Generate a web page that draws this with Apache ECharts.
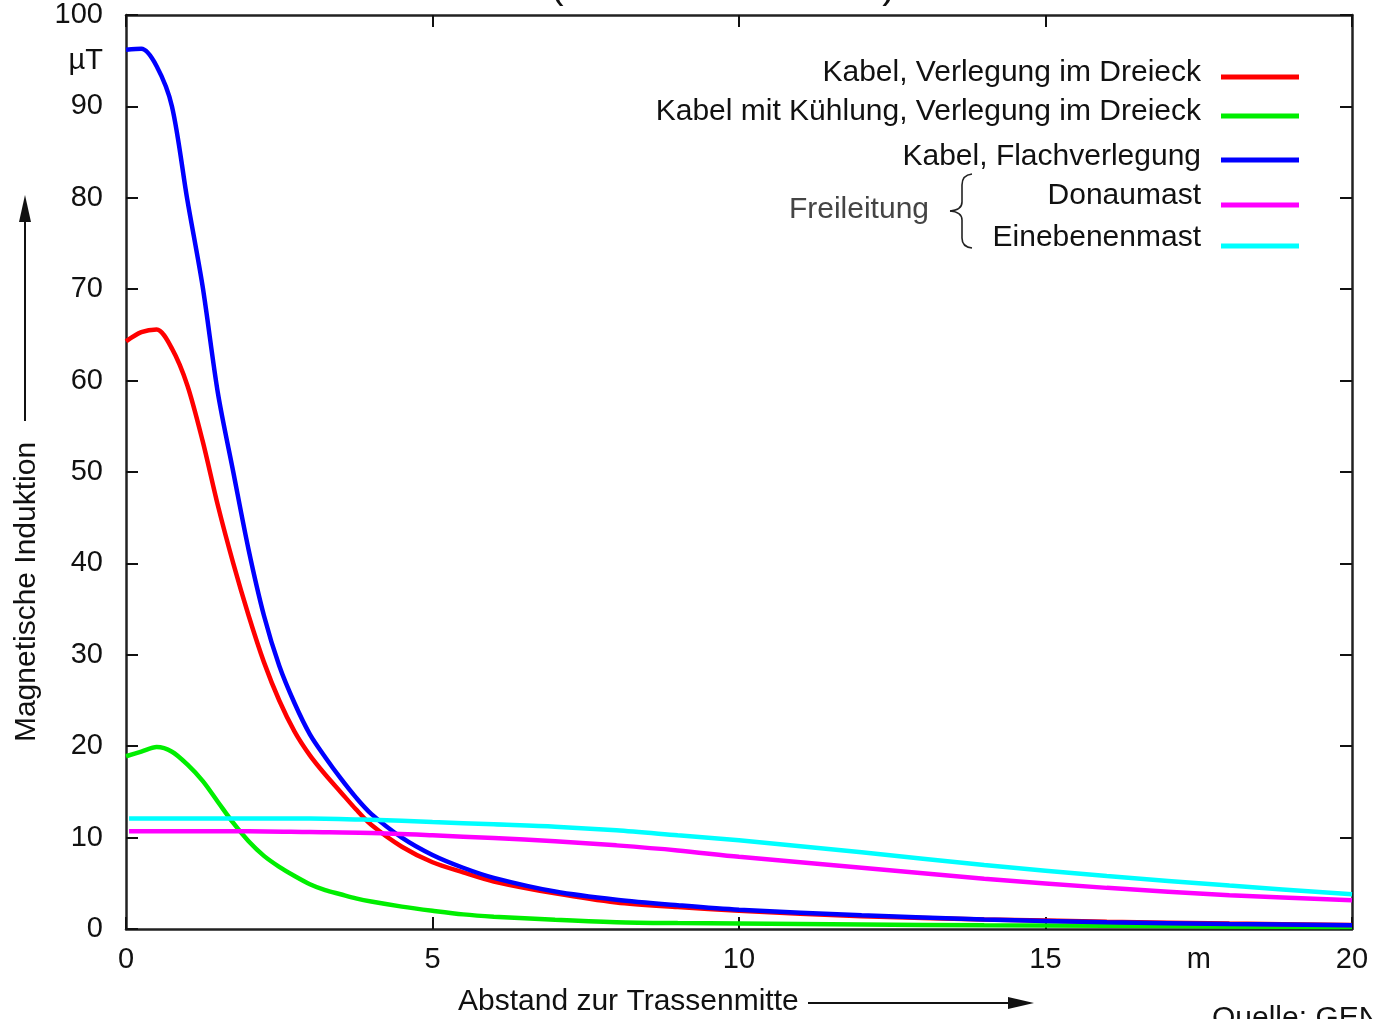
<!DOCTYPE html>
<html><head><meta charset="utf-8">
<script src="https://cdn.jsdelivr.net/npm/echarts@6/dist/echarts.min.js"></script>
<style>html,body{margin:0;padding:0;background:#fff}#c{width:1375px;height:1019px}</style>
</head><body><div id="c"></div>
<script>
// Distance from route centre (m)
const xCable = [0, 0.25, 0.5, 0.75, 1, 1.25, 1.5, 1.75, 2, 2.25, 2.5, 2.75, 3, 3.25, 3.5, 3.75, 4, 4.5, 5, 5.5, 6, 7, 8, 9, 10, 12, 14, 16, 18, 20];
// Kabel, Verlegung im Dreieck
const redVals   = [64.3, 65.3, 65.6, 63.5, 59.5, 53.4, 46.3, 40.0, 34.3, 29.2, 25.0, 21.6, 19.0, 16.9, 15.0, 13.1, 11.4, 9.0, 7.3, 6.2, 5.2, 3.9, 2.9, 2.4, 2.0, 1.4, 1.05, 0.8, 0.6, 0.45];
// Kabel mit Kühlung, Verlegung im Dreieck
const greenVals = [18.9, 19.4, 19.9, 19.4, 18.0, 16.2, 13.9, 11.6, 9.6, 8.0, 6.8, 5.8, 4.9, 4.25, 3.8, 3.35, 3.0, 2.45, 2.0, 1.6, 1.35, 1.0, 0.75, 0.65, 0.6, 0.5, 0.4, 0.35, 0.28, 0.22];
// Kabel, Flachverlegung
const blueVals  = [96.2, 96.3, 94.4, 90.0, 79.8, 70.3, 58.6, 50.0, 41.5, 34.3, 28.8, 24.7, 21.3, 18.8, 16.5, 14.4, 12.6, 10.0, 8.1, 6.7, 5.6, 4.1, 3.2, 2.6, 2.1, 1.5, 1.05, 0.75, 0.55, 0.4];
// Freileitung
const xLine = [0.05, 1, 2, 3, 4, 5, 6, 7, 8, 9, 10, 12, 14, 16, 18, 20];
const magentaVals = [10.7, 10.7, 10.7, 10.6, 10.5, 10.25, 9.95, 9.6, 9.15, 8.6, 7.9, 6.7, 5.5, 4.5, 3.7, 3.15];
const cyanVals    = [12.1, 12.1, 12.1, 12.1, 11.95, 11.7, 11.45, 11.2, 10.8, 10.25, 9.7, 8.4, 7.0, 5.8, 4.75, 3.8];

const seriesNames = ['Kabel, Verlegung im Dreieck', 'Kabel mit Kühlung, Verlegung im Dreieck', 'Kabel, Flachverlegung', 'Donaumast', 'Einebenenmast'];
const seriesColors = ['#ff0000', '#00ee00', '#0000ff', '#ff00ff', '#00ffff'];
const xTickValues = [0, 5, 10, 15, 20];
const xLabelValues = [0, 5, 10, 15, 17.5, 20];
const yTickValues = [0, 10, 20, 30, 40, 50, 60, 70, 80, 90, 100];
const yLabelValues = [0, 10, 20, 30, 40, 50, 60, 70, 80, 90, 95, 100];

const pairs = (xs, ys) => xs.map((x, i) => [x, ys[i]]);
const seriesData = [pairs(xCable, redVals), pairs(xCable, greenVals), pairs(xCable, blueVals), pairs(xLine, magentaVals), pairs(xLine, cyanVals)];

const FONT = 'Liberation Sans, Arial, sans-serif';
const axisLine = {show: true, onZero: false, lineStyle: {color: '#222', width: 2.5}};
const tick = (vals) => ({show: true, inside: true, length: 12, customValues: vals, lineStyle: {color: '#111', width: 2}});

const chart = echarts.init(document.getElementById('c'), null, {renderer: 'canvas'});

// Legend (right aligned text, line sample to the right)
const legendY = [73, 112, 157, 196, 238];
const sampleY = [77, 116, 160, 205, 246];
const graphics = [];
seriesNames.forEach((n, i) => {
  graphics.push({type: 'text', x: 1201, y: legendY[i], style: {text: n, font: '30px ' + FONT, fill: '#111', textAlign: 'right', textVerticalAlign: 'middle'}});
  graphics.push({type: 'line', shape: {x1: 1221, y1: sampleY[i], x2: 1299, y2: sampleY[i]}, style: {stroke: seriesColors[i], lineWidth: 5}});
});
graphics.push({type: 'text', x: 929, y: 210, style: {text: 'Freileitung', font: '30px ' + FONT, fill: '#444', textAlign: 'right', textVerticalAlign: 'middle'}});
// curly brace
const braceStyle = {stroke: '#222', lineWidth: 1.6, fill: null};
graphics.push({type: 'bezierCurve', shape: {x1: 972, y1: 174, x2: 962, y2: 185, cpx1: 962, cpy1: 175}, style: braceStyle});
graphics.push({type: 'line', shape: {x1: 962, y1: 185, x2: 962, y2: 202}, style: braceStyle});
graphics.push({type: 'bezierCurve', shape: {x1: 962, y1: 202, x2: 950, y2: 211, cpx1: 962, cpy1: 210}, style: braceStyle});
graphics.push({type: 'bezierCurve', shape: {x1: 950, y1: 211, x2: 962, y2: 220, cpx1: 962, cpy1: 212}, style: braceStyle});
graphics.push({type: 'line', shape: {x1: 962, y1: 220, x2: 962, y2: 238}, style: braceStyle});
graphics.push({type: 'bezierCurve', shape: {x1: 962, y1: 238, x2: 972, y2: 248, cpx1: 962, cpy1: 247}, style: braceStyle});
// Y axis title with arrow
graphics.push({type: 'text', x: 27, y: 592, rotation: Math.PI / 2, style: {text: 'Magnetische Induktion', font: '30px ' + FONT, fill: '#111', textAlign: 'center', textVerticalAlign: 'middle'}});
graphics.push({type: 'line', shape: {x1: 25, y1: 421, x2: 25, y2: 215}, style: {stroke: '#111', lineWidth: 2}});
graphics.push({type: 'polygon', shape: {points: [[25, 195], [19, 222], [31, 222]]}, style: {fill: '#111'}});
// X axis title with arrow
graphics.push({type: 'text', x: 458, y: 1002, style: {text: 'Abstand zur Trassenmitte', font: '30px ' + FONT, fill: '#111', textAlign: 'left', textVerticalAlign: 'middle'}});
graphics.push({type: 'line', shape: {x1: 808, y1: 1003, x2: 1012, y2: 1003}, style: {stroke: '#111', lineWidth: 2}});
graphics.push({type: 'polygon', shape: {points: [[1034, 1003], [1008, 997], [1008, 1009]]}, style: {fill: '#111'}});
// Source (cut off at bottom)
graphics.push({type: 'text', x: 1212, y: 1004, style: {text: 'Quelle: GEN', font: '30px ' + FONT, fill: '#111', textAlign: 'left', textVerticalAlign: 'top'}});
// Title remnants (cut off at top)
graphics.push({type: 'text', x: 557, y: 7, style: {text: '(', font: '40px ' + FONT, fill: '#111', textAlign: 'center', textVerticalAlign: 'bottom'}});
graphics.push({type: 'text', x: 889, y: 7, style: {text: ')', font: '40px ' + FONT, fill: '#111', textAlign: 'center', textVerticalAlign: 'bottom'}});

chart.setOption({
  animation: false,
  backgroundColor: '#fff',
  grid: {left: 126, right: 23, top: 15, bottom: 90, containLabel: false},
  xAxis: [
    {type: 'value', position: 'bottom', min: 0, max: 20, axisLine, axisTick: tick(xTickValues),
     axisLabel: {customValues: xLabelValues, formatter: v => v === 17.5 ? 'm' : String(v), fontSize: 29, fontFamily: FONT, color: '#111', margin: 16},
     splitLine: {show: false}},
    {type: 'value', position: 'top', min: 0, max: 20, axisLine, axisTick: tick(xTickValues), axisLabel: {show: false}, splitLine: {show: false}}
  ],
  yAxis: [
    {type: 'value', position: 'left', min: 0, max: 100, axisLine, axisTick: tick(yTickValues),
     axisLabel: {customValues: yLabelValues, formatter: v => v === 95 ? 'µT' : String(v), fontSize: 29, fontFamily: FONT, color: '#111', margin: 23},
     splitLine: {show: false}},
    {type: 'value', position: 'right', min: 0, max: 100, axisLine, axisTick: tick(yTickValues), axisLabel: {show: false}, splitLine: {show: false}}
  ],
  series: seriesNames.map((n, i) => ({
    name: n, type: 'line', xAxisIndex: 0, yAxisIndex: 0, data: seriesData[i],
    showSymbol: false, smooth: 0.3, lineStyle: {color: seriesColors[i], width: 4.5}, itemStyle: {color: seriesColors[i]},
    z: [3, 2, 4, 5, 6][i]
  })),
  graphic: graphics
});
</script>
</body></html>
